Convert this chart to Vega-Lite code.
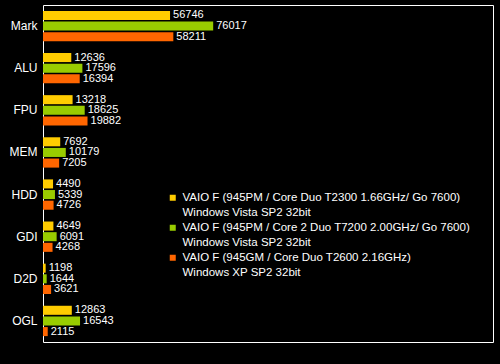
{
  "$schema": "https://vega.github.io/schema/vega-lite/v6.json",
  "width": 450,
  "height": 337,
  "autosize": {"type": "none"},
  "padding": {"left": 43, "top": 5, "right": 7, "bottom": 22},
  "background": "#000000",
  "config": {
    "view": {"stroke": "#ffffff", "strokeWidth": 1, "fill": "#000000"},
    "font": "Liberation Sans",
    "style": {"guide-label": {"lineHeight": 15}}
  },
  "data": {
    "values": [
      {"category": "Mark", "series": "VAIO F (945PM / Core Duo T2300 1.66GHz/ Go 7600)|Windows Vista SP2 32bit", "value": 56746},
      {"category": "Mark", "series": "VAIO F (945PM / Core 2 Duo T7200 2.00GHz/ Go 7600)|Windows Vista SP2 32bit", "value": 76017},
      {"category": "Mark", "series": "VAIO F (945GM / Core Duo T2600 2.16GHz)|Windows XP SP2 32bit", "value": 58211},
      {"category": "ALU", "series": "VAIO F (945PM / Core Duo T2300 1.66GHz/ Go 7600)|Windows Vista SP2 32bit", "value": 12636},
      {"category": "ALU", "series": "VAIO F (945PM / Core 2 Duo T7200 2.00GHz/ Go 7600)|Windows Vista SP2 32bit", "value": 17596},
      {"category": "ALU", "series": "VAIO F (945GM / Core Duo T2600 2.16GHz)|Windows XP SP2 32bit", "value": 16394},
      {"category": "FPU", "series": "VAIO F (945PM / Core Duo T2300 1.66GHz/ Go 7600)|Windows Vista SP2 32bit", "value": 13218},
      {"category": "FPU", "series": "VAIO F (945PM / Core 2 Duo T7200 2.00GHz/ Go 7600)|Windows Vista SP2 32bit", "value": 18625},
      {"category": "FPU", "series": "VAIO F (945GM / Core Duo T2600 2.16GHz)|Windows XP SP2 32bit", "value": 19882},
      {"category": "MEM", "series": "VAIO F (945PM / Core Duo T2300 1.66GHz/ Go 7600)|Windows Vista SP2 32bit", "value": 7692},
      {"category": "MEM", "series": "VAIO F (945PM / Core 2 Duo T7200 2.00GHz/ Go 7600)|Windows Vista SP2 32bit", "value": 10179},
      {"category": "MEM", "series": "VAIO F (945GM / Core Duo T2600 2.16GHz)|Windows XP SP2 32bit", "value": 7205},
      {"category": "HDD", "series": "VAIO F (945PM / Core Duo T2300 1.66GHz/ Go 7600)|Windows Vista SP2 32bit", "value": 4490},
      {"category": "HDD", "series": "VAIO F (945PM / Core 2 Duo T7200 2.00GHz/ Go 7600)|Windows Vista SP2 32bit", "value": 5339},
      {"category": "HDD", "series": "VAIO F (945GM / Core Duo T2600 2.16GHz)|Windows XP SP2 32bit", "value": 4726},
      {"category": "GDI", "series": "VAIO F (945PM / Core Duo T2300 1.66GHz/ Go 7600)|Windows Vista SP2 32bit", "value": 4649},
      {"category": "GDI", "series": "VAIO F (945PM / Core 2 Duo T7200 2.00GHz/ Go 7600)|Windows Vista SP2 32bit", "value": 6091},
      {"category": "GDI", "series": "VAIO F (945GM / Core Duo T2600 2.16GHz)|Windows XP SP2 32bit", "value": 4268},
      {"category": "D2D", "series": "VAIO F (945PM / Core Duo T2300 1.66GHz/ Go 7600)|Windows Vista SP2 32bit", "value": 1198},
      {"category": "D2D", "series": "VAIO F (945PM / Core 2 Duo T7200 2.00GHz/ Go 7600)|Windows Vista SP2 32bit", "value": 1644},
      {"category": "D2D", "series": "VAIO F (945GM / Core Duo T2600 2.16GHz)|Windows XP SP2 32bit", "value": 3621},
      {"category": "OGL", "series": "VAIO F (945PM / Core Duo T2300 1.66GHz/ Go 7600)|Windows Vista SP2 32bit", "value": 12863},
      {"category": "OGL", "series": "VAIO F (945PM / Core 2 Duo T7200 2.00GHz/ Go 7600)|Windows Vista SP2 32bit", "value": 16543},
      {"category": "OGL", "series": "VAIO F (945GM / Core Duo T2600 2.16GHz)|Windows XP SP2 32bit", "value": 2115}
    ]
  },
  "encoding": {
    "y": {
      "field": "category",
      "type": "nominal",
      "sort": null,
      "scale": {"paddingInner": 0.28, "paddingOuter": 0.14},
      "axis": {
        "title": null,
        "ticks": false,
        "domain": false,
        "labelColor": "#ffffff",
        "labelFontSize": 12,
        "labelPadding": 6,
        "labelFont": "Liberation Sans"
      }
    },
    "yOffset": {
      "field": "series",
      "type": "nominal",
      "sort": null,
      "scale": {"paddingInner": 0.15, "paddingOuter": 0}
    },
    "x": {
      "field": "value",
      "type": "quantitative",
      "scale": {"domain": [0, 201000], "nice": false},
      "axis": null
    }
  },
  "layer": [
    {
      "mark": {"type": "bar"},
      "encoding": {
        "color": {
          "field": "series",
          "type": "nominal",
          "sort": null,
          "scale": {"range": ["#FFCC00", "#99CC00", "#FF6600"]},
          "legend": {
            "title": null,
            "orient": "none",
            "legendX": 124,
            "legendY": 187,
            "symbolType": "square",
            "symbolSize": 36,
            "symbolStrokeWidth": 0,
            "labelColor": "#ffffff",
            "labelFontSize": 11.5,
            "labelFont": "Liberation Sans",
            "labelLimit": 400,
            "labelOffset": 4,
            "labelExpr": "split(datum.label, '|')",
            "rowPadding": 2
          }
        }
      }
    },
    {
      "mark": {"type": "text", "align": "left", "baseline": "middle", "dx": 3, "color": "#ffffff", "fontSize": 11, "font": "Liberation Sans"},
      "encoding": {
        "text": {"field": "value", "type": "quantitative", "format": "d"}
      }
    }
  ]
}
